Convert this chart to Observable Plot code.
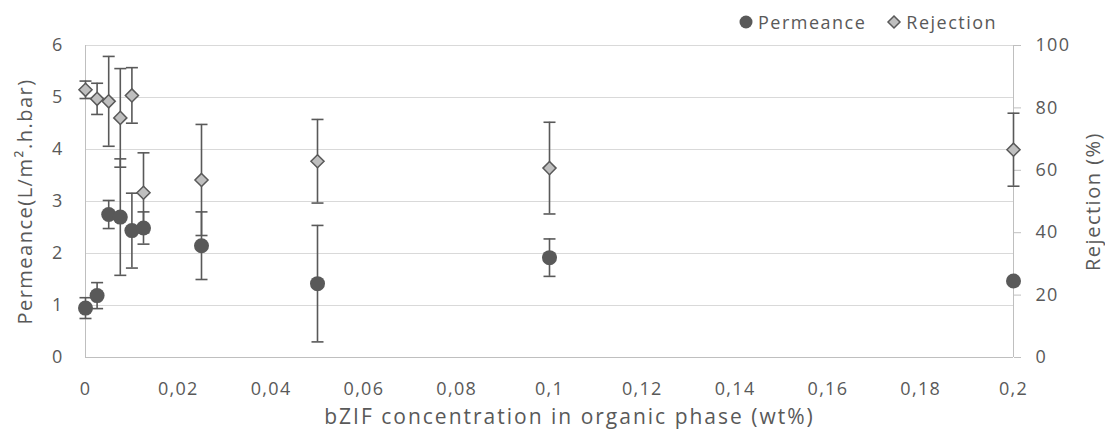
<!DOCTYPE html>
<html>
<head>
<meta charset="utf-8">
<script src="https://cdn.jsdelivr.net/npm/d3@7"></script>
<script src="https://cdn.jsdelivr.net/npm/@observablehq/plot@0.6"></script>
<style>
  html, body { margin: 0; padding: 0; background: #fff; }
  #wrap { position: relative; width: 1105px; height: 435px; }
  #legend { position: absolute; top: 10px; left: 738px; font-family: "Open Sans", sans-serif; font-size: 18px; letter-spacing: 1.5px; color: #595959; display: flex; align-items: center; white-space: nowrap; }
  #legend .item { display: flex; align-items: center; margin-right: 20px; }
  #legend svg { margin-right: 4px; }
</style>
</head>
<body>
<div id="wrap">
  <div id="legend">
    <span class="item"><svg width="16" height="16"><circle cx="8" cy="8" r="6.5" fill="#595959"/></svg>Permeance</span>
    <span class="item"><svg width="16" height="16"><path d="M8,2 L14,8 L8,14 L2,8 Z" fill="#bfbfbf" stroke="#595959" stroke-width="1.5"/></svg>Rejection</span>
  </div>
</div>
<script>
const conc = [0, 0.0025, 0.005, 0.0075, 0.01, 0.0125, 0.025, 0.05, 0.1, 0.2];
const permeance = [0.95, 1.19, 2.75, 2.70, 2.44, 2.49, 2.15, 1.42, 1.92, 1.47];
const permeanceErr = [0.2, 0.25, 0.27, 1.12, 0.72, 0.31, 0.65, 1.12, 0.36, 0.05];
const rejection = [85.8, 82.9, 82.1, 76.8, 84.0, 52.8, 56.9, 62.9, 60.7, 66.6];
const rejectionErr = [2.8, 5.0, 14.4, 15.8, 8.9, 12.8, 17.8, 13.4, 14.7, 11.7];
const xTicks = [0, 0.02, 0.04, 0.06, 0.08, 0.1, 0.12, 0.14, 0.16, 0.18, 0.2];
const yTicksLeft = [0, 1, 2, 3, 4, 5, 6];
const yTicksRight = [0, 20, 40, 60, 80, 100];
const xLabel = "bZIF concentration in organic phase (wt%)";
const yLabelLeft = "Permeance(L/m².h.bar)";
const yLabelRight = "Rejection (%)";

const ratio = 6 / 100; // rejection (%) -> permeance axis units
const rows = conc.map((c, i) => ({
  c,
  p: permeance[i], pLo: permeance[i] - permeanceErr[i], pHi: permeance[i] + permeanceErr[i],
  r: rejection[i] * ratio, rLo: (rejection[i] - rejectionErr[i]) * ratio, rHi: (rejection[i] + rejectionErr[i]) * ratio
}));

const dark = "#595959";
const capSymbol = { draw(ctx) { ctx.moveTo(-6, 0); ctx.lineTo(6, 0); } };
const fmtComma = d => String(d).replace(".", ",");

const chart = Plot.plot({
  width: 1105,
  height: 435,
  marginLeft: 85,
  marginRight: 92,
  marginTop: 45,
  marginBottom: 78,
  style: { fontFamily: "Open Sans, sans-serif", fontSize: "18px", color: dark, background: "#fff" },
  x: { domain: [0, 0.2] },
  y: { domain: [0, 6] },
  marks: [
    Plot.gridY({ ticks: yTicksLeft.filter(d => d > 0), stroke: "#d9d9d9", strokeOpacity: 1, strokeWidth: 1 }),
    Plot.ruleX([0, 0.2], { stroke: "#bfbfbf", strokeWidth: 1 }),
    Plot.ruleY([0], { stroke: "#bfbfbf", strokeWidth: 1 }),
    Plot.axisX({ ticks: xTicks, tickFormat: fmtComma, tickSize: 0, tickPadding: 25, label: null, fill: dark }),
    Plot.axisY({ ticks: yTicksLeft, tickFormat: d => String(d), tickSize: 0, tickPadding: 22, label: null, fill: dark }),
    Plot.axisY({ anchor: "right", ticks: yTicksRight.map(r => r * ratio), tickFormat: d => String(Math.round(d / ratio)), tickSize: 7, tickPadding: 15, label: null, stroke: "#bfbfbf", fill: dark }),
    // error bars
    Plot.ruleX(rows, { x: "c", y1: "rLo", y2: "rHi", stroke: dark, strokeWidth: 1.6 }),
    Plot.dot(rows, { x: "c", y: "rLo", symbol: capSymbol, stroke: dark, strokeWidth: 1.6, fill: "none" }),
    Plot.dot(rows, { x: "c", y: "rHi", symbol: capSymbol, stroke: dark, strokeWidth: 1.6, fill: "none" }),
    Plot.ruleX(rows, { x: "c", y1: "pLo", y2: "pHi", stroke: dark, strokeWidth: 1.6 }),
    Plot.dot(rows, { x: "c", y: "pLo", symbol: capSymbol, stroke: dark, strokeWidth: 1.6, fill: "none" }),
    Plot.dot(rows, { x: "c", y: "pHi", symbol: capSymbol, stroke: dark, strokeWidth: 1.6, fill: "none" }),
    // markers
    Plot.dot(rows, { x: "c", y: "p", r: 7.5, fill: dark, stroke: "none" }),
    Plot.dot(rows, { x: "c", y: "r", r: 5.9, symbol: "diamond2", fill: "#bfbfbf", stroke: dark, strokeWidth: 1.5 }),
    // axis titles
    Plot.text([xLabel], { frameAnchor: "bottom", dx: 20, dy: 66, fill: dark, fontSize: 21, textAnchor: "middle" }),
    Plot.text([yLabelLeft], { frameAnchor: "left", dx: -60, rotate: -90, fill: dark, fontSize: 20, textAnchor: "middle" }),
    Plot.text([yLabelRight], { frameAnchor: "right", dx: 80, rotate: -90, fill: dark, fontSize: 20, textAnchor: "middle" })
  ]
});
chart.querySelectorAll("text").forEach(t => {
  const s = t.textContent;
  if (s === xLabel) t.style.letterSpacing = "2px";
  else if (s === yLabelLeft || s === yLabelRight) t.style.letterSpacing = "1.5px";
  else t.style.letterSpacing = "1.3px";
});
document.getElementById("wrap").prepend(chart);
</script>
</body>
</html>
